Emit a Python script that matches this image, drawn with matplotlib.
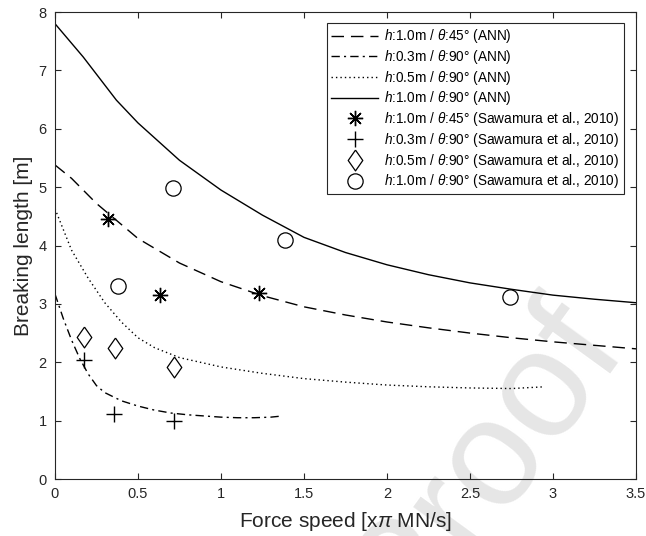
import matplotlib
matplotlib.use("Agg")
import matplotlib.pyplot as plt

plt.rcParams['font.family'] = ['Liberation Sans', 'DejaVu Sans']
plt.rcParams['mathtext.fontset'] = 'custom'
plt.rcParams['mathtext.rm'] = 'Liberation Sans'
plt.rcParams['mathtext.it'] = 'Liberation Sans:italic'

# ANN curves
x_h10_45 = [0, 0.1, 0.25, 0.5, 0.75, 1.0, 1.25, 1.5, 1.75, 2.0, 2.25, 2.5, 2.75, 3.0, 3.25, 3.5]
y_h10_45 = [5.38, 5.15, 4.72, 4.12, 3.70, 3.38, 3.14, 2.95, 2.81, 2.69, 2.59, 2.50, 2.42, 2.35, 2.29, 2.23]

x_h03_90 = [0, 0.05, 0.1, 0.15, 0.2, 0.25, 0.3, 0.4, 0.5, 0.6, 0.7, 0.8, 0.9, 1.0, 1.1, 1.2, 1.3, 1.37]
y_h03_90 = [3.17, 2.75, 2.38, 2.06, 1.80, 1.60, 1.48, 1.34, 1.25, 1.18, 1.13, 1.10, 1.08, 1.06, 1.05, 1.05, 1.06, 1.08]

x_h05_90 = [0, 0.1, 0.2, 0.3, 0.4, 0.5, 0.6, 0.75, 1.0, 1.25, 1.5, 1.75, 2.0, 2.25, 2.5, 2.75, 2.95]
y_h05_90 = [4.63, 3.92, 3.44, 3.02, 2.69, 2.42, 2.25, 2.08, 1.92, 1.81, 1.72, 1.66, 1.61, 1.58, 1.56, 1.55, 1.58]

x_h10_90 = [0, 0.17, 0.37, 0.5, 0.75, 1.0, 1.25, 1.5, 1.75, 2.0, 2.25, 2.5, 2.75, 3.0, 3.25, 3.5]
y_h10_90 = [7.80, 7.23, 6.49, 6.10, 5.46, 4.95, 4.52, 4.14, 3.88, 3.67, 3.50, 3.36, 3.25, 3.15, 3.08, 3.02]

# Sawamura et al. (2010) experiments
exp_x_h10_45 = [0.32, 0.63, 1.23]
exp_y_h10_45 = [4.46, 3.15, 3.18]
exp_x_h03_90 = [0.175, 0.355, 0.72]
exp_y_h03_90 = [2.04, 1.12, 0.99]
exp_x_h05_90 = [0.175, 0.36, 0.72]
exp_y_h05_90 = [2.44, 2.24, 1.92]
exp_x_h10_90 = [0.38, 0.71, 1.385, 2.74]
exp_y_h10_90 = [3.31, 4.98, 4.10, 3.11]

labels_ann = [r'$h$:1.0m / $\theta$:45° (ANN)', r'$h$:0.3m / $\theta$:90° (ANN)',
              r'$h$:0.5m / $\theta$:90° (ANN)', r'$h$:1.0m / $\theta$:90° (ANN)']
labels_exp = [r'$h$:1.0m / $\theta$:45° (Sawamura et al., 2010)',
              r'$h$:0.3m / $\theta$:90° (Sawamura et al., 2010)',
              r'$h$:0.5m / $\theta$:90° (Sawamura et al., 2010)',
              r'$h$:1.0m / $\theta$:90° (Sawamura et al., 2010)']

fig = plt.figure(figsize=(6.46, 5.36), dpi=100)
ax = fig.add_axes([0.0851, 0.1063, 0.8994, 0.8713])
ax.set_facecolor('none')

# faint watermark behind everything
fig.text(0.75, 0.135, 'Proof', fontsize=110, color='#e6e6e6', rotation=54,
         ha='center', va='center', zorder=-5)

k = 'black'
ax.plot(x_h10_45, y_h10_45, color=k, lw=1.0, dashes=(9, 5), label=labels_ann[0])
ax.plot(x_h03_90, y_h03_90, color=k, lw=1.0, dashes=(6, 3, 1.5, 3), label=labels_ann[1])
ax.plot(x_h05_90, y_h05_90, color=k, lw=1.0, dashes=(1, 2.2), label=labels_ann[2])
ax.plot(x_h10_90, y_h10_90, color=k, lw=1.0, label=labels_ann[3])

diamond = [(0, 1), (0.7, 0), (0, -1), (-0.7, 0), (0, 1)]
ax.plot(exp_x_h10_45, exp_y_h10_45, ls='none', marker=(8, 2, 0), ms=11, mew=1.0,
        color=k, label=labels_exp[0])
ax.plot(exp_x_h03_90, exp_y_h03_90, ls='none', marker='+', ms=12, mew=1.0,
        color=k, label=labels_exp[1])
ax.plot(exp_x_h05_90, exp_y_h05_90, ls='none', marker=diamond, ms=15, mew=0.9,
        mfc='none', mec=k, label=labels_exp[2])
ax.plot(exp_x_h10_90, exp_y_h10_90, ls='none', marker='o', ms=11, mew=0.9,
        mfc='none', mec=k, label=labels_exp[3])

ax.set_xlim(0, 3.5)
ax.set_ylim(0, 8)
ax.set_xticks([0, 0.5, 1, 1.5, 2, 2.5, 3, 3.5])
ax.set_xticklabels(['0', '0.5', '1', '1.5', '2', '2.5', '3', '3.5'])
ax.set_yticks(range(0, 9))

gray = '#262626'
for s in ax.spines.values():
    s.set_color(gray)
    s.set_linewidth(0.8)
ax.tick_params(direction='in', top=True, right=True, length=4, width=0.8,
               colors=gray, labelsize=10.5, pad=6)

ax.set_xlabel(r'Force speed [x$\pi$ MN/s]', fontsize=15, color=gray, labelpad=6)
ax.set_ylabel('Breaking length [m]', fontsize=15, color=gray, labelpad=4)

leg = ax.legend(loc='upper right', bbox_to_anchor=(0.979, 0.976), borderaxespad=0,
                fontsize=9.8, handlelength=3.4, labelspacing=0.2, handletextpad=0.5,
                borderpad=0.3, fancybox=False, framealpha=1, edgecolor=gray)
leg.get_frame().set_linewidth(0.8)

fig.savefig('out.png', dpi=100)
